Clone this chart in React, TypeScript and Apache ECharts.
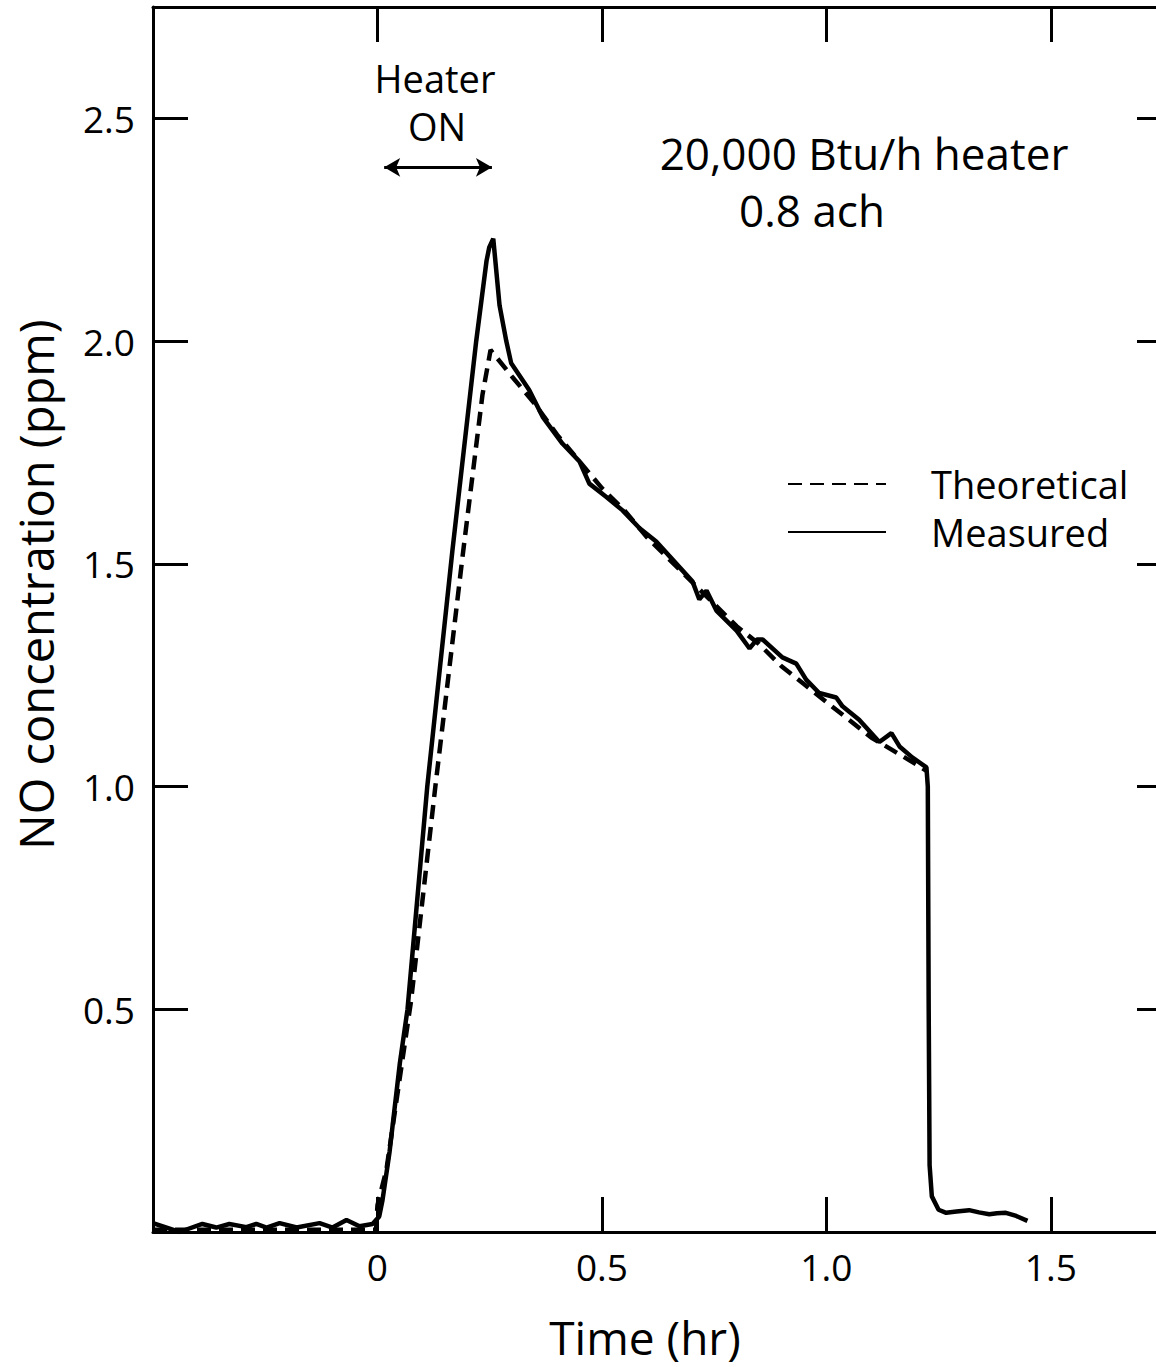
import React, { useEffect, useRef } from 'react';
import * as echarts from 'echarts';

// Measured NO concentration (ppm) vs time (hr)
const measuredTime = [
  -0.5, -0.441, -0.39, -0.359, -0.33, -0.292, -0.27, -0.247, -0.218, -0.18, -0.129, -0.1, -0.069, -0.04, -0.011,
  0.004, 0.011, 0.027, 0.05, 0.067, 0.111, 0.167, 0.22, 0.243, 0.249, 0.258,
  0.272, 0.287, 0.298, 0.338, 0.368, 0.412, 0.45, 0.472, 0.51, 0.546, 0.584, 0.621, 0.657, 0.702, 0.717, 0.733,
  0.755, 0.8, 0.829, 0.845, 0.858, 0.902, 0.933, 0.955, 0.984, 1.022, 1.036, 1.073, 1.118, 1.145, 1.163, 1.192,
  1.223, 1.226, 1.228, 1.23, 1.235, 1.25, 1.267, 1.29, 1.318, 1.34, 1.363, 1.38, 1.4, 1.423, 1.448,
];
const measuredPpm = [
  0.02, 0.0, 0.018, 0.01, 0.018, 0.011, 0.018, 0.01, 0.02, 0.01, 0.02, 0.01, 0.027, 0.013, 0.018,
  0.035, 0.07, 0.18, 0.38, 0.5, 1.0, 1.53, 2.0, 2.18, 2.21, 2.23,
  2.08, 2.0, 1.95, 1.89, 1.83, 1.77, 1.73, 1.68, 1.65, 1.62, 1.58, 1.55, 1.51, 1.46, 1.42, 1.44,
  1.395, 1.35, 1.31, 1.33, 1.33, 1.29, 1.276, 1.24, 1.21, 1.2, 1.18, 1.15, 1.1, 1.12, 1.09, 1.065,
  1.043, 1.0, 0.5, 0.15, 0.08, 0.05, 0.043, 0.046, 0.049, 0.044, 0.04, 0.042, 0.043, 0.036, 0.025,
];

// Theoretical NO concentration (ppm) vs time (hr)
const theoreticalTime = [
  -0.5, -0.003, 0.0, 0.02, 0.075, 0.129, 0.19, 0.234, 0.252,
  0.3, 0.35, 0.4, 0.45, 0.5, 0.55, 0.6, 0.65, 0.7, 0.75, 0.8, 0.85, 0.9, 0.95, 1.0, 1.05, 1.1, 1.15, 1.2, 1.223,
];
const theoreticalPpm = [
  0.005, 0.005, 0.06, 0.14, 0.52, 1.0, 1.52, 1.88, 1.98,
  1.92, 1.86, 1.79, 1.73, 1.67, 1.62, 1.56, 1.51, 1.46, 1.41, 1.36, 1.32, 1.27, 1.23, 1.19, 1.15, 1.11, 1.08, 1.05, 1.035,
];

const xTickValues = [0, 0.5, 1.0, 1.5];
const xTickLabels = ['0', '0.5', '1.0', '1.5'];
const yTickValues = [0.5, 1.0, 1.5, 2.0, 2.5];
const yTickLabels = ['0.5', '1.0', '1.5', '2.0', '2.5'];

const heaterOnStart = 0.015;
const heaterOnEnd = 0.255;
const heaterArrowLevel = 2.39;

const FONT = '"Open Sans", "DejaVu Sans", sans-serif';

function lookup(values: number[], labels: string[], v: number): string {
  for (let i = 0; i < values.length; i++) {
    if (Math.abs(values[i] - v) < 1e-6) return labels[i];
  }
  return '';
}

export default function App() {
  const ref = useRef<HTMLDivElement>(null);
  useEffect(() => {
    if (!ref.current) return;
    const chart = echarts.init(ref.current, undefined, { renderer: 'svg' });
    const measured = measuredTime.map((t, i) => [t, measuredPpm[i]]);
    const theoretical = theoreticalTime.map((t, i) => [t, theoreticalPpm[i]]);
    const axisLine = { show: true, onZero: false, lineStyle: { color: '#000', width: 3 } };
    const tick = { show: true, inside: true, length: 35, lineStyle: { color: '#000', width: 3 } };
    chart.setOption({
      animation: false,
      backgroundColor: '#fff',
      grid: { left: 153, top: 7, width: 1019, height: 1225, containLabel: false, outerBoundsMode: 'none' },
      legend: {
        orient: 'vertical',
        left: 787,
        top: 465,
        padding: 0,
        itemWidth: 98,
        itemHeight: 16,
        itemGap: 10,
        data: ['Theoretical', 'Measured'],
        itemStyle: { opacity: 0 },
        textStyle: { fontSize: 38, fontFamily: FONT, color: '#000', padding: [0, 0, 0, 40], lineHeight: 38 },
      },
      xAxis: [
        {
          type: 'value',
          position: 'bottom',
          min: -0.5,
          max: 1.77,
          interval: 0.5,
          splitLine: { show: false },
          axisLine,
          axisTick: tick,
          axisLabel: {
            margin: 16,
            fontSize: 37,
            fontFamily: FONT,
            color: '#000',
            formatter: (v: number) => lookup(xTickValues, xTickLabels, v),
          },
          name: 'Time (hr)',
          nameLocation: 'middle',
          nameGap: 82,
          nameTextStyle: { fontSize: 46, fontFamily: FONT, color: '#000', padding: [0, 35, 0, 0] },
        },
        {
          type: 'value',
          position: 'top',
          min: -0.5,
          max: 1.77,
          interval: 0.5,
          splitLine: { show: false },
          axisLine,
          axisTick: tick,
          axisLabel: { show: false },
        },
      ],
      yAxis: [
        {
          type: 'value',
          position: 'left',
          min: 0,
          max: 2.75,
          interval: 0.5,
          splitLine: { show: false },
          axisLine,
          axisTick: tick,
          axisLabel: {
            margin: 18,
            fontSize: 37,
            fontFamily: FONT,
            color: '#000',
            formatter: (v: number) => lookup(yTickValues, yTickLabels, v),
          },
          name: 'NO concentration (ppm)',
          nameLocation: 'middle',
          nameRotate: 90,
          nameGap: 94,
          nameTextStyle: { fontSize: 47, fontFamily: FONT, color: '#000', padding: [0, 0, 0, 70] },
        },
        {
          type: 'value',
          position: 'right',
          min: 0,
          max: 2.75,
          interval: 0.5,
          splitLine: { show: false },
          axisLine,
          axisTick: tick,
          axisLabel: { show: false },
        },
      ],
      series: [
        {
          name: 'Theoretical',
          type: 'line',
          data: theoretical,
          symbol: 'none',
          lineStyle: { color: '#000', width: 4.5, type: [14, 8] },
          itemStyle: { color: '#000' },
          z: 3,
        },
        {
          name: 'Measured',
          type: 'line',
          data: measured,
          symbol: 'none',
          lineStyle: { color: '#000', width: 4.5, type: 'solid' },
          itemStyle: { color: '#000' },
          z: 4,
          markLine: {
            silent: true,
            symbol: ['arrow', 'arrow'],
            symbolSize: [14, 16],
            label: { show: false },
            lineStyle: { color: '#000', width: 3, type: 'solid' },
            data: [[{ coord: [heaterOnStart, heaterArrowLevel] }, { coord: [heaterOnEnd, heaterArrowLevel] }]],
          },
        },
      ],
      graphic: [
        { type: 'text', x: 435, y: 78, style: { text: 'Heater', fontSize: 38, lineHeight: 38, fontFamily: FONT, fill: '#000', align: 'center', verticalAlign: 'middle' } },
        { type: 'text', x: 437, y: 126, style: { text: 'ON', fontSize: 38, lineHeight: 38, fontFamily: FONT, fill: '#000', align: 'center', verticalAlign: 'middle' } },
        { type: 'text', x: 864, y: 153, style: { text: '20,000 Btu/h heater', fontSize: 44, lineHeight: 44, fontFamily: FONT, fill: '#000', align: 'center', verticalAlign: 'middle' } },
        { type: 'text', x: 812, y: 210, style: { text: '0.8 ach', fontSize: 44, lineHeight: 44, fontFamily: FONT, fill: '#000', align: 'center', verticalAlign: 'middle' } },
      ],
    });
    return () => chart.dispose();
  }, []);
  return (
    <div
      ref={ref}
      style={{ position: 'absolute', left: 0, top: 0, width: 1156, height: 1367, background: '#fff' }}
    />
  );
}
